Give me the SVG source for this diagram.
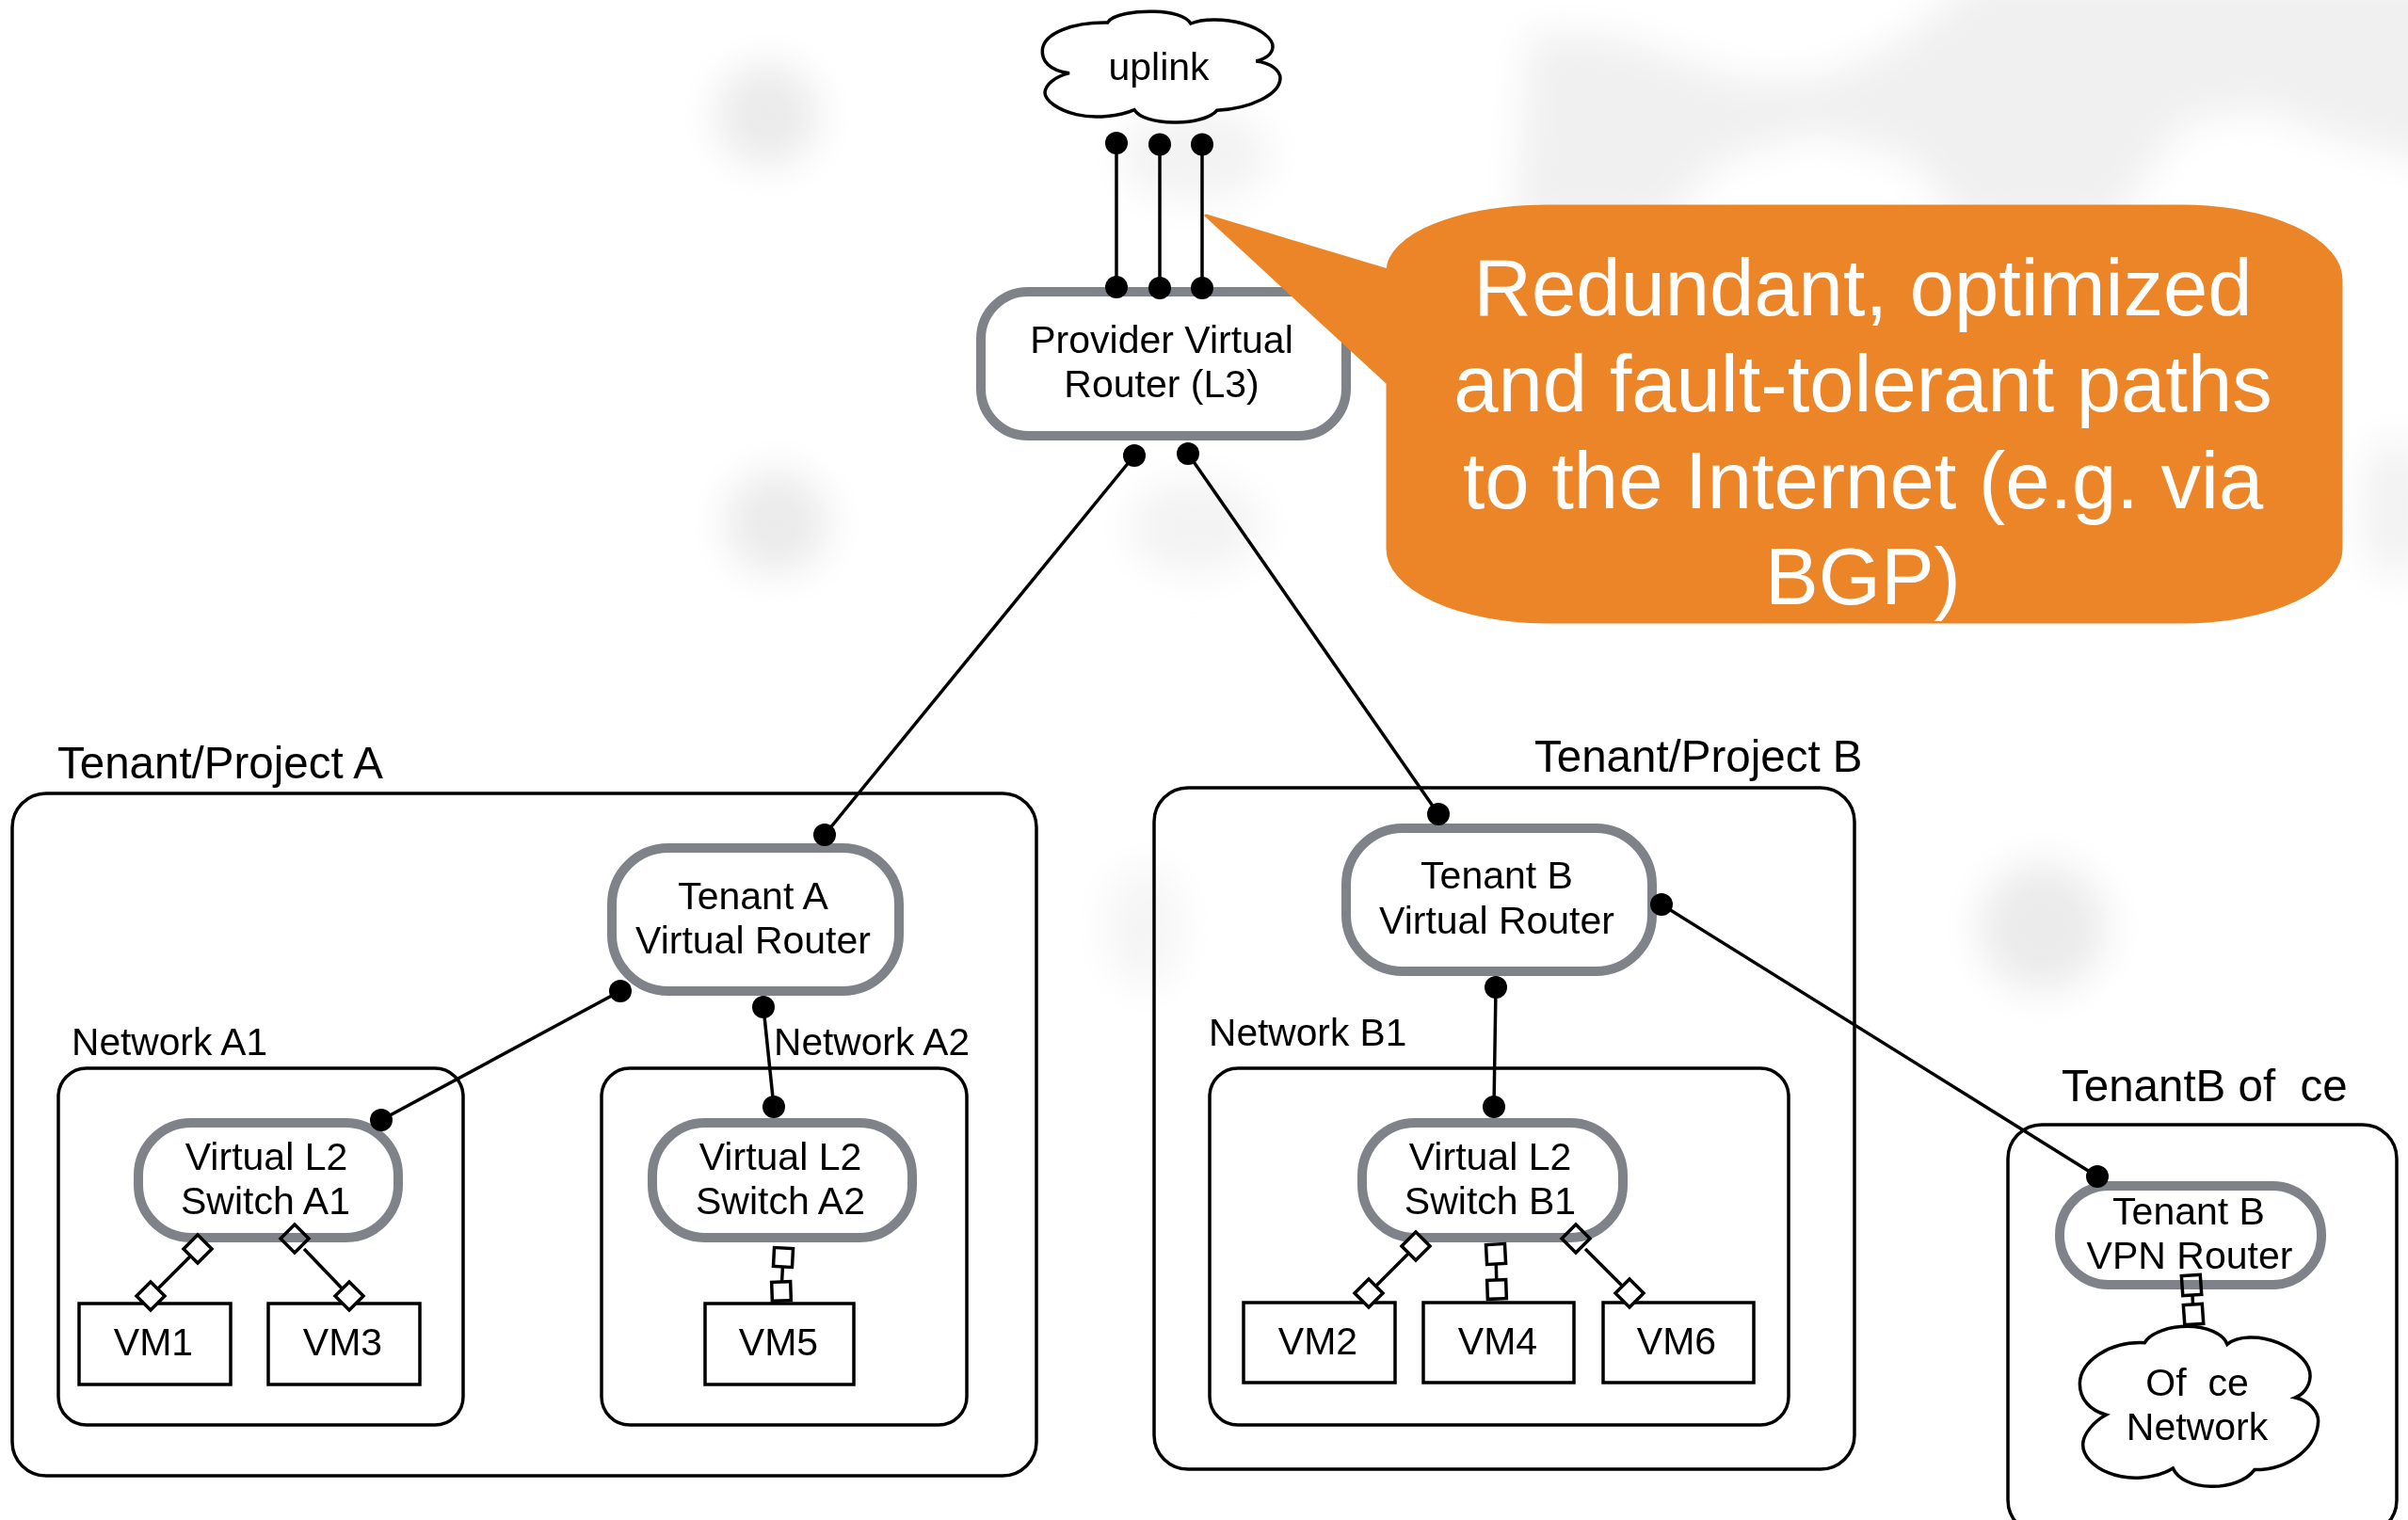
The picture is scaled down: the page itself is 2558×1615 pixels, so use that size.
<svg xmlns="http://www.w3.org/2000/svg" width="2558" height="1615" viewBox="0 0 2558 1615">
<defs>
<filter id="b1" x="-100%" y="-100%" width="300%" height="300%"><feGaussianBlur stdDeviation="20"/></filter>
<filter id="b2" x="-10%" y="-30%" width="120%" height="160%"><feGaussianBlur stdDeviation="20"/></filter>
</defs>
<style>
text{font-family:"Liberation Sans",Arial,sans-serif;fill:#000;font-size:41px;text-anchor:middle;white-space:pre}
.big{font-size:47.500px;text-anchor:start}
.lab{font-size:40.700px;text-anchor:start}
.call{font-size:85px;fill:#fff}
.box{fill:none;stroke:#000;stroke-width:3.500}
.vm{fill:#fff;stroke:#000;stroke-width:3.500}
.rt{fill:#fff;stroke:#7f8289;stroke-width:10}
.ln{stroke:#000;stroke-width:3.500;fill:none}
.dot{fill:#000}
.port{fill:#fff;stroke:#000;stroke-width:3.500}
.open{fill:none}
.cl{fill:#fff;stroke:#000;stroke-width:10.500}
</style>
<rect width="2558" height="1615" fill="#fff"/>
<g id="background">
<path fill="#f0f0f0" filter="url(#b2)" d="M1625 35L1720 40L1850 85L1930 85L2010 50L2110 -30H2620V185L2480 145L2400 115L2320 130L2240 240H2090L2030 170L1930 140L1830 170L1760 240H1610Z"/>
<g fill="#ebebeb" filter="url(#b1)">
<circle cx="815" cy="122" r="55"/><circle cx="825" cy="555" r="55"/><circle cx="2170" cy="985" r="68"/>
<ellipse cx="1270" cy="165" rx="80" ry="50" opacity=".6"/><ellipse cx="1270" cy="560" rx="70" ry="50" opacity=".6"/><ellipse cx="1215" cy="985" rx="40" ry="65" opacity=".5"/><ellipse cx="2545" cy="540" rx="35" ry="75" opacity=".7"/>
</g>
</g>
<g id="containers">
<rect id="tenant-a" class="box" x="13" y="843" width="1088" height="725" rx="36"/>
<rect id="tenant-b" class="box" x="1226" y="837" width="744" height="724" rx="36"/>
<rect id="tenant-b-office" class="box" x="2133" y="1195" width="413" height="435" rx="36"/>
<rect id="network-a1" class="box" x="62" y="1135" width="430" height="379" rx="30"/>
<rect id="network-a2" class="box" x="639" y="1135" width="388" height="379" rx="30"/>
<rect id="network-b1" class="box" x="1285" y="1135" width="615" height="379" rx="30"/>
<text class="big" x="61" y="827">Tenant/Project A</text>
<text class="big" x="1630" y="820">Tenant/Project B</text>
<text class="big" x="2190" y="1170">TenantB of  ce</text>
<text class="lab" x="76" y="1121">Network A1</text>
<text class="lab" x="822" y="1121">Network A2</text>
<text class="lab" x="1284" y="1111">Network B1</text>
</g>
<g id="connectors">
<path class="ln" d="M1186 152V305M1232 153V306M1277 153V306"/>
<path class="ln" d="M1205 484L876 887M1262 482L1528 865M659 1053L405 1190M811 1070L822 1176M1589 1049L1587 1176M1765 961L2228 1250"/>
<path class="ln" d="M210 1327L160 1377M323 1327L371 1377M832 1336L830 1372M1504 1324L1454 1374M1684 1327L1731 1374M1589 1332L1590 1370M2329 1376L2330 1396"/>
</g>
<g id="uplink">
<path class="cl" transform="translate(1000 0) scale(.3333)" d="M408 233C340 225 320 190 322 160C325 105 420 70 530 72C545 45 620 35 680 37C730 38 780 50 795 75C830 60 900 58 960 75C1020 92 1058 125 1056 150C1055 170 1040 185 1003 195C1050 200 1080 225 1080 250C1078 300 990 345 878 352C860 375 800 392 740 390C680 390 630 375 615 350C570 370 490 380 430 365C370 350 330 320 330 295C332 270 360 245 408 233Z"/>
<text x="1231" y="85">uplink</text>
</g>
<g id="provider-router">
<rect class="rt" x="1042" y="310" width="388" height="153" rx="50"/>
<text x="1234" y="375">Provider Virtual</text>
<text x="1234" y="422">Router (L3)</text>
</g>
<g id="tenant-a-router">
<rect class="rt" x="650" y="901" width="305" height="152" rx="60"/>
<text x="800" y="966">Tenant A</text>
<text x="800" y="1013">Virtual Router</text>
</g>
<g id="tenant-b-router">
<rect class="rt" x="1430" y="880" width="325" height="152" rx="60"/>
<text x="1590" y="944">Tenant B</text>
<text x="1590" y="992">Virtual Router</text>
</g>
<g id="switch-a1">
<rect class="rt" x="147" y="1193" width="276" height="122" rx="56"/>
<text x="283" y="1243">Virtual L2</text>
<text x="282" y="1290">Switch A1</text>
</g>
<g id="switch-a2">
<rect class="rt" x="693" y="1193" width="276" height="122" rx="56"/>
<text x="829" y="1243">Virtual L2</text>
<text x="829" y="1290">Switch A2</text>
</g>
<g id="switch-b1">
<rect class="rt" x="1447" y="1193" width="277" height="122" rx="56"/>
<text x="1583" y="1243">Virtual L2</text>
<text x="1583" y="1290">Switch B1</text>
</g>
<g id="vpn-router">
<rect class="rt" x="2188" y="1260" width="278" height="105" rx="52"/>
<text x="2325" y="1301">Tenant B</text>
<text x="2326" y="1348">VPN Router</text>
</g>
<g id="office-network">
<path class="cl" transform="translate(2100 1130) scale(.3333)" d="M412 1120C360 1105 328 1070 328 1020C330 950 420 885 535 890C555 855 620 838 670 838C730 838 785 860 798 895C830 868 900 865 960 890C1030 920 1065 960 1062 1000C1060 1030 1040 1055 1015 1065C1060 1075 1088 1110 1088 1140C1085 1220 1000 1295 885 1295C860 1330 800 1350 745 1348C690 1348 640 1325 625 1290C570 1325 480 1330 420 1305C370 1285 338 1250 338 1215C338 1180 375 1140 412 1120Z"/>
<text x="2334" y="1483">Of  ce</text>
<text x="2334" y="1530">Network</text>
</g>
<g id="vm1"><rect class="vm" x="84" y="1385" width="161" height="86"/><text x="163" y="1440">VM1</text></g>
<g id="vm3"><rect class="vm" x="285" y="1385" width="161" height="86"/><text x="364" y="1440">VM3</text></g>
<g id="vm5"><rect class="vm" x="749" y="1385" width="158" height="86"/><text x="827" y="1440">VM5</text></g>
<g id="vm2"><rect class="vm" x="1321" y="1384" width="161" height="85"/><text x="1400" y="1439">VM2</text></g>
<g id="vm4"><rect class="vm" x="1512" y="1384" width="160" height="85"/><text x="1591" y="1439">VM4</text></g>
<g id="vm6"><rect class="vm" x="1703" y="1384" width="160" height="85"/><text x="1781" y="1439">VM6</text></g>
<g id="ports">
<g class="port">
<path d="M210 1312l15 15l-15 15l-15-15z"/>
<path d="M160 1362l15 15l-15 15l-15-15z"/>
<path class="open" d="M313 1301l15 15l-15 15l-15-15z"/>
<path d="M371 1362l15 15l-15 15l-15-15z"/>
<path d="M1504 1309l15 15l-15 15l-15-15z"/>
<path d="M1454 1359l15 15l-15 15l-15-15z"/>
<path class="open" d="M1674 1301l15 15l-15 15l-15-15z"/>
<path d="M1731 1359l15 15l-15 15l-15-15z"/>
<rect x="822" y="1326" width="20" height="20" transform="rotate(3 832 1336)"/>
<rect x="820" y="1362" width="20" height="20" transform="rotate(-2 830 1372)"/>
<rect x="1579" y="1322" width="20" height="21" transform="rotate(-3 1589 1332)"/>
<rect x="1580" y="1360" width="20" height="20" transform="rotate(-2 1590 1370)"/>
<rect class="open" x="2318" y="1355" width="20" height="21" transform="rotate(-4 2328 1365)"/>
<rect x="2320" y="1386" width="20" height="21" transform="rotate(-4 2330 1396)"/>
</g>
<g class="dot">
<circle cx="1186" cy="152" r="12"/><circle cx="1232" cy="153.500" r="12"/><circle cx="1277" cy="153.500" r="12"/>
<circle cx="1186" cy="305" r="12"/><circle cx="1232" cy="306" r="12"/><circle cx="1277" cy="306" r="12"/>
<circle cx="1205" cy="484" r="12"/><circle cx="1262" cy="482" r="12"/>
<circle cx="876" cy="887" r="12"/><circle cx="1528" cy="865" r="12"/>
<circle cx="659" cy="1053" r="12"/><circle cx="811" cy="1070" r="12"/>
<circle cx="405" cy="1190" r="12"/><circle cx="822" cy="1176" r="12"/>
<circle cx="1589" cy="1049" r="12"/><circle cx="1765" cy="961" r="12"/><circle cx="1587" cy="1176" r="12"/><circle cx="2228" cy="1250" r="12"/>
</g>
</g>
<g id="callout">
<path fill="#eb8528" stroke="#eb8528" stroke-width="3" stroke-linejoin="round" d="M1281 229L1474 287A170 69 0 0 1 1643 219H2319A169 78 0 0 1 2487 297V583A169 78 0 0 1 2319 661H1643A170 78 0 0 1 1474 583V407Z"/>
<text class="call" x="1979" y="335">Redundant, optimized</text>
<text class="call" x="1979" y="437">and fault-tolerant paths</text>
<text class="call" x="1979" y="540">to the Internet (e.g. via</text>
<text class="call" x="1979" y="642">BGP)</text>
</g>
</svg>
